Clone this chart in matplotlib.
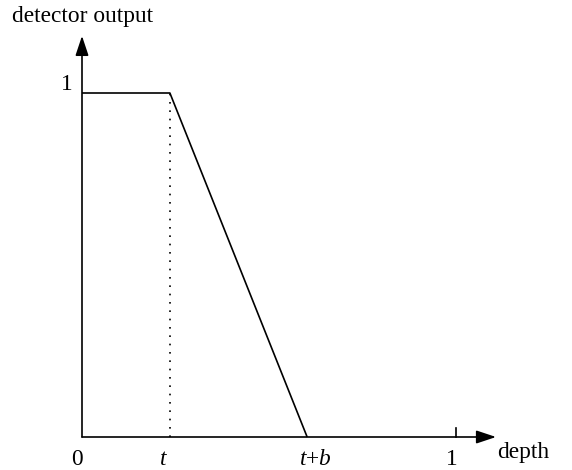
import matplotlib
matplotlib.use("Agg")
import matplotlib.pyplot as plt

plt.rcParams['font.family'] = ['Liberation Serif', 'DejaVu Serif']
plt.rcParams['mathtext.fontset'] = 'custom'
plt.rcParams['mathtext.rm'] = 'Liberation Serif'
plt.rcParams['mathtext.it'] = 'Liberation Serif:italic'

# detector response vs depth
t = 0.235
b = 0.367
depth = [0, t, t + b, 1.0]
output = [1, 1, 0, 0]
xticks = [0, t, t + b, 1.0]
xlabels = ["0", "$t$", "$t$+$b$", "1"]
label_dx = [-5, -6, 8, -4]   # small shifts of the labels, in pixels

fig = plt.figure(figsize=(5.72, 4.70), dpi=100)
ax = fig.add_axes([0, 0, 1, 1])
ax.set_xlim(-82 / 374, (572 - 82) / 374)
ax.set_ylim((437 - 470) / 344, 437 / 344)
ax.axis("off")

lw = 1.2
arrow = dict(arrowstyle="-|>,head_length=0.6,head_width=0.2",
             mutation_scale=20, lw=lw, color="black", shrinkA=0, shrinkB=0)
ax.annotate("", xy=(1.107, 0), xytext=(0, 0), arrowprops=arrow)
ax.annotate("", xy=(0, 1.166), xytext=(0, 0), arrowprops=arrow)

# curve
ax.plot(depth[:3], output[:3], color="black", lw=lw, solid_capstyle="butt")
ax.plot([t, t], [0, 1], color="black", lw=lw, linestyle=(0, (1, 4)))
ax.plot([1, 1], [0, 0.026], color="black", lw=lw)

fs = 16.8
for x, lab, dx in zip(xticks, xlabels, label_dx):
    ax.annotate(lab, xy=(x, 0), xytext=(dx, -28), textcoords="offset pixels",
                ha="center", va="baseline", fontsize=fs)
ax.annotate("1", xy=(0, 1), xytext=(-15, 8), textcoords="offset pixels",
            ha="center", va="center", fontsize=fs)
ax.annotate("depth", xy=(1.107, 0), xytext=(1, -21), textcoords="offset pixels",
            ha="left", va="baseline", fontsize=fs)
ax.text(-0.187, 1.222, "detector output", ha="left", va="center", fontsize=fs)

fig.savefig("out.png", dpi=100)
